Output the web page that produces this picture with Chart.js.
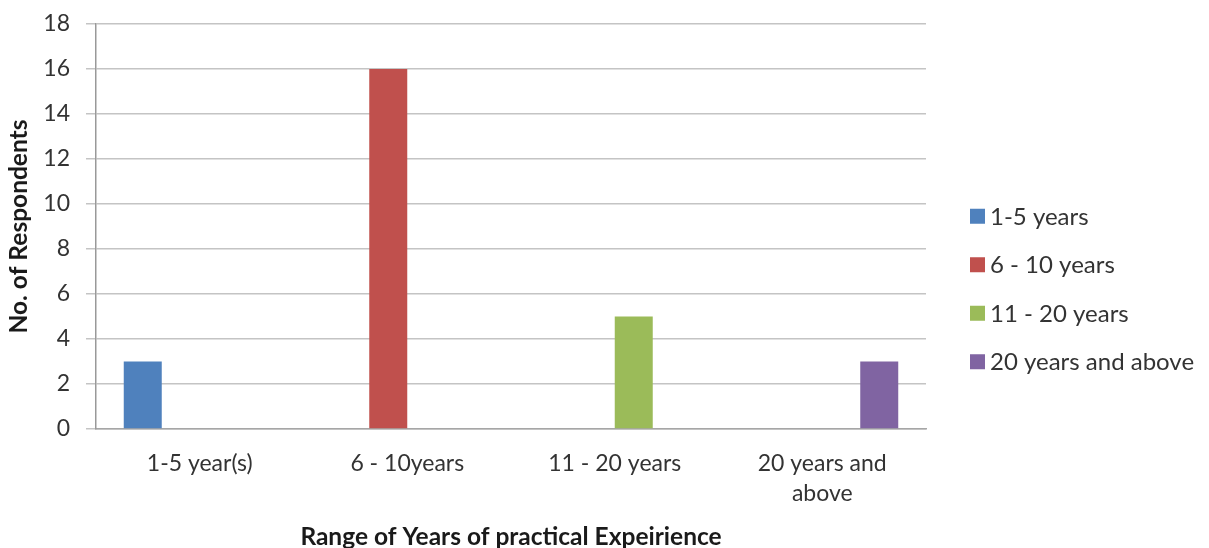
<!DOCTYPE html>
<html>
<head>
<meta charset="utf-8">
<title>Range of Years of practical Expeirience</title>
<script src="https://cdn.jsdelivr.net/npm/chart.js@4/dist/chart.umd.min.js"></script>
<style>
  html, body { margin: 0; padding: 0; background: #ffffff; }
  #wrap { width: 1209px; height: 548px; }
</style>
</head>
<body>
<div id="wrap"><canvas id="chart" width="1209" height="548"></canvas></div>
<script>
// Experience ranges shown along the x axis
const categories = ['1-5 year(s)', '6 - 10years', '11 - 20 years', ['20 years and', 'above']];
// Legend names of the four series
const seriesNames = ['1-5 years', '6 - 10 years', '11 - 20 years', '20 years and above'];
// Number of respondents in each range
const respondents = [3, 16, 5, 3];
// Y axis tick values
const yTickValues = [0, 2, 4, 6, 8, 10, 12, 14, 16, 18];
const seriesColors = ['#4f81bd', '#c0504d', '#9bbb59', '#8064a2'];

const FONT = 'Lato, "Open Sans", "DejaVu Sans", sans-serif';

// Each series only carries a value in its own range, so the bars sit in
// their own slot of each group.
const datasets = seriesNames.map((name, i) => ({
  label: name,
  data: categories.map((_, j) => (j === i ? respondents[i] : null)),
  backgroundColor: seriesColors[i],
  borderWidth: 0,
  categoryPercentage: 0.7325,
  barPercentage: 1.0
}));

// Legend drawn on the right, one row per series
const sideLegend = {
  id: 'sideLegend',
  afterDraw(chart) {
    const { ctx, chartArea } = chart;
    const boxX = chartArea.right + 44;
    const box = 15;
    const rowGap = 48.5;
    const firstRow = chart.height / 2 + 15 - rowGap * 1.5;
    ctx.save();
    ctx.font = '24px ' + FONT;
    ctx.textBaseline = 'middle';
    ctx.textAlign = 'left';
    chart.data.datasets.forEach((ds, i) => {
      const cy = firstRow + i * rowGap;
      ctx.fillStyle = ds.backgroundColor;
      ctx.fillRect(boxX, cy - box / 2, box, box);
      ctx.fillStyle = '#333333';
      ctx.fillText(ds.label, boxX + box + 5, cy + 1);
    });
    ctx.restore();
  }
};

new Chart(document.getElementById('chart'), {
  type: 'bar',
  data: { labels: categories, datasets },
  plugins: [sideLegend],
  options: {
    responsive: false,
    animation: false,
    devicePixelRatio: 1,
    layout: { padding: { left: 0, right: 283, top: 24, bottom: 0 } },
    plugins: {
      legend: { display: false },
      tooltip: { enabled: false }
    },
    scales: {
      x: {
        afterFit(scale) { scale.height = 119; },
        grid: { display: false, drawTicks: false },
        border: { display: true, color: '#a6a6a6', width: 1.5 },
        ticks: {
          color: '#333333',
          padding: 20,
          maxRotation: 0,
          autoSkip: false,
          font: { family: FONT, size: 23, lineHeight: 1.3 }
        },
        title: {
          display: true,
          text: 'Range of Years of practical Expeirience',
          color: '#1a1a1a',
          font: { family: FONT, size: 24.5, weight: 'bold', lineHeight: 1.0 },
          padding: { top: 0, bottom: -1 }
        }
      },
      y: {
        min: 0,
        max: 18,
        afterFit(scale) {
          scale.width = 96;
          scale.paddingTop = 0;
          scale.paddingBottom = 0;
        },
        afterBuildTicks(scale) {
          scale.ticks = yTickValues.map(v => ({ value: v }));
        },
        grid: {
          color: '#c4c4c4',
          lineWidth: 1.5,
          drawTicks: true,
          tickLength: 10,
          tickColor: '#c4c4c4'
        },
        border: { display: true, color: '#999999', width: 1.5 },
        ticks: {
          color: '#333333',
          padding: 16,
          font: { family: FONT, size: 23 }
        },
        title: {
          display: true,
          text: 'No. of Respondents',
          color: '#1a1a1a',
          font: { family: FONT, size: 24.5, weight: 'bold', lineHeight: 1.0 },
          padding: { top: 7, bottom: 0 }
        }
      }
    }
  }
});
</script>
</body>
</html>
